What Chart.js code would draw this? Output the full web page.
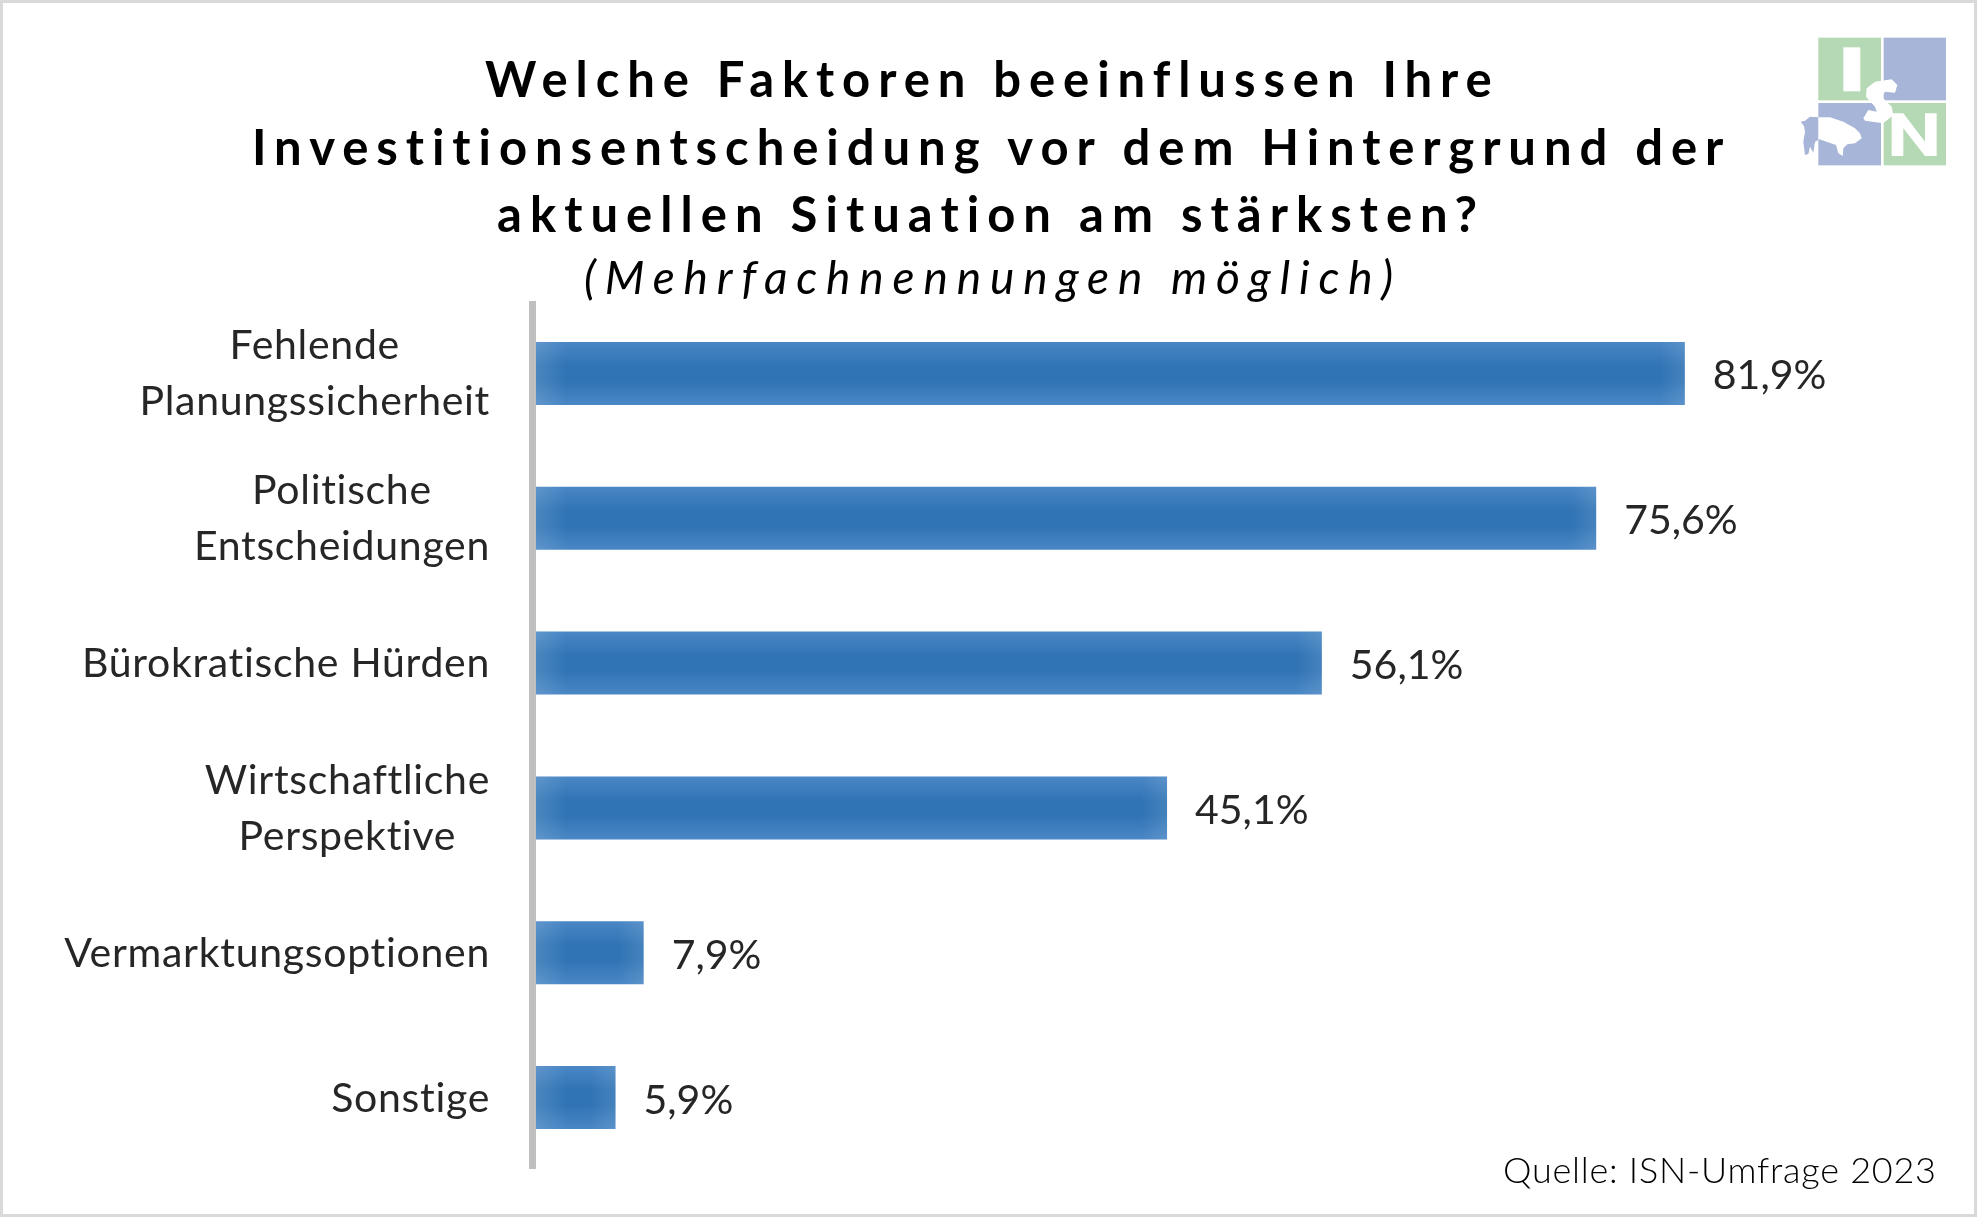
<!DOCTYPE html>
<html>
<head>
<meta charset="utf-8">
<title>ISN-Umfrage 2023</title>
<script src="https://cdn.jsdelivr.net/npm/chart.js@4/dist/chart.umd.min.js"></script>
<style>
  html, body { margin: 0; padding: 0; background: #fff; }
  #wrap { position: relative; width: 1977px; height: 1217px; overflow: hidden; }
  #myChart { display: block; outline: 3px solid #d9d9d9; outline-offset: -3px; }
  #logo { position: absolute; left: 1760px; top: 0; width: 217px; height: 200px; }
</style>
</head>
<body>
<div id="wrap">
  <canvas id="myChart" width="1977" height="1217"></canvas>
  <!-- logo, coordinates are from the 3x crop -->
  <svg id="logo" viewBox="0 0 651 600">
    <rect x="175" y="113" width="188" height="188" fill="#b4d9b4"/>
    <rect x="371" y="113" width="187" height="188" fill="#a7b5d8"/>
    <rect x="175" y="309" width="188" height="187" fill="#a7b5d8"/>
    <rect x="371" y="309" width="187" height="187" fill="#b4d9b4"/>
    <rect x="250" y="142" width="51" height="132" fill="#fff"/>
    <path d="M345 245 L395 238 L412 255 L405 278 L375 275 L365 290 L395 320 L400 345 L370 370 L315 362 L310 355 L325 330 L350 335 L345 320 L318 290 L320 265 Z" fill="#fff"/>
    <path d="M395 340 L430 340 L495 425 L495 340 L530 340 L530 468 L495 468 L430 385 L430 468 L395 468 Z" fill="#fff"/>
    <path d="M175 352 L150 350 L135 362 L122 365 L132 378 L135 395 L130 425 L135 465 L145 462 L150 440 L160 458 L165 425 L175 420 Z" fill="#a7b5d8"/>
    <path d="M175 352 L210 352 L250 365 L285 385 L300 400 L305 415 L285 430 L262 433 L250 445 L248 468 L235 460 L228 435 L200 425 L178 418 L175 420 Z" fill="#fff"/>
  </svg>
</div>
<script>
const categories = [
    ['Fehlende', 'Planungssicherheit'],
    ['Politische', 'Entscheidungen'],
    ['Bürokratische Hürden'],
    ['Wirtschaftliche', 'Perspektive'],
    ['Vermarktungsoptionen'],
    ['Sonstige']
];
const values = [81.9, 75.6, 56.1, 45.1, 7.9, 5.9];
const titleLines = [
    'Welche Faktoren beeinflussen Ihre',
    'Investitionsentscheidung vor dem Hintergrund der',
    'aktuellen Situation am stärksten?'
];
const subtitleText = '(Mehrfachnennungen möglich)';
const sourceText = 'Quelle: ISN-Umfrage 2023';

// draws text so that it fills a given width
function spacedText(ctx, text, font, left, right, baseline, color) {
    ctx.save();
    ctx.font = font;
    ctx.fillStyle = color;
    ctx.textAlign = 'left';
    ctx.textBaseline = 'alphabetic';
    ctx.letterSpacing = '0px';
    const w = ctx.measureText(text).width;
    ctx.letterSpacing = ((right - left - w) / (text.length - 1)) + 'px';
    ctx.fillText(text, left, baseline);
    ctx.restore();
}

// title, subtitle and source
const headerText = {
    id: 'headerText',
    afterDraw(chart) {
        const c = chart.ctx;
        spacedText(c, titleLines[0], 'bold 49px Lato', 485, 1492, 97, '#000');
        spacedText(c, titleLines[1], 'bold 49px Lato', 252, 1725, 165, '#000');
        spacedText(c, titleLines[2], 'bold 49px Lato', 497, 1478, 232, '#000');
        spacedText(c, subtitleText, 'italic 46px Lato', 584, 1393, 294, '#000');
        spacedText(c, sourceText, '300 36px Lato', 1503, 1936, 1183, '#000');
    }
};

// category labels: block is right aligned, the lines are centred to each other
const categoryLabels = {
    id: 'categoryLabels',
    afterDraw(chart) {
        const c = chart.ctx, y = chart.scales.y;
        c.save();
        c.font = '41px Lato';
        c.letterSpacing = '0.7px';
        c.fillStyle = '#262626';
        c.textBaseline = 'alphabetic';
        c.textAlign = 'center';
        categories.forEach(function(lines, i) {
            const widest = Math.max(...lines.map(l => c.measureText(l).width));
            const mid = 490 - widest / 2;
            const first = y.getPixelForTick(i) + 14 - (lines.length - 1) * 28;
            lines.forEach(function(l, j) {
                c.fillText(l, mid, first + j * 56);
            });
        });
        c.restore();
    }
};

// value at the end of each bar, lighter bar ends, axis line on top
const barExtras = {
    id: 'barExtras',
    afterDatasetsDraw(chart) {
        const c = chart.ctx;
        const left = chart.chartArea.left;
        chart.getDatasetMeta(0).data.forEach(function(bar, i) {
            const top = bar.y - bar.height / 2;
            let g = c.createLinearGradient(left, 0, left + 34, 0);
            g.addColorStop(0, 'rgba(255,255,255,0.14)');
            g.addColorStop(1, 'rgba(255,255,255,0)');
            c.fillStyle = g;
            c.fillRect(left, top, 34, bar.height);
            g = c.createLinearGradient(bar.x - 26, 0, bar.x, 0);
            g.addColorStop(0, 'rgba(255,255,255,0)');
            g.addColorStop(1, 'rgba(255,255,255,0.1)');
            c.fillStyle = g;
            c.fillRect(bar.x - 26, top, 26, bar.height);

            c.font = '41px Lato';
            c.fillStyle = '#262626';
            c.textAlign = 'left';
            c.textBaseline = 'alphabetic';
            c.fillText(values[i].toFixed(1).replace('.', ',') + '%', bar.x + 28, bar.y + 16);
        });
        // chart.js would let its border stick out past the area, so it is drawn here
        c.fillStyle = '#bfbfbf';
        c.fillRect(left - 3.5, chart.chartArea.top, 7, chart.chartArea.bottom - chart.chartArea.top - 1);
    }
};

const mc = document.getElementById('myChart').getContext('2d');
const myChart = new Chart(mc, {
    type: 'bar',
    data: {
        labels: categories.map(l => l.join(' ')),
        datasets: [{
            data: values,
            barPercentage: 0.435,
            categoryPercentage: 1,
            backgroundColor: function(context) {
                const y = context.chart.scales.y;
                if (!y) return '#3274b5';
                const mid = y.getPixelForTick(context.dataIndex);
                const g = context.chart.ctx.createLinearGradient(0, mid - 32, 0, mid + 32);
                g.addColorStop(0, '#4a87c5');
                g.addColorStop(0.38, '#3074b5');
                g.addColorStop(0.62, '#3074b5');
                g.addColorStop(1, '#4a87c5');
                return g;
            }
        }]
    },
    options: {
        indexAxis: 'y',
        responsive: false,
        animation: false,
        devicePixelRatio: 1,
        layout: {
            padding: { top: 301, bottom: 47, right: 37.5 }
        },
        scales: {
            x: {
                display: false,
                min: 0,
                max: 100
            },
            y: {
                afterFit: function(scale) {
                    scale.width = 532.5;
                },
                grid: { display: false },
                ticks: { display: false },
                border: { display: false }
            }
        },
        plugins: {
            legend: { display: false },
            tooltip: { enabled: false }
        }
    },
    plugins: [barExtras, categoryLabels, headerText]
});
</script>
</body>
</html>
